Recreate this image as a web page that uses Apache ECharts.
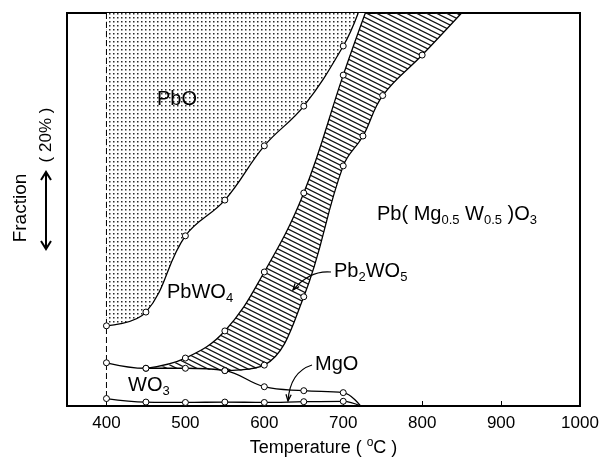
<!DOCTYPE html>
<html><head><meta charset="utf-8">
<script src="https://cdn.jsdelivr.net/npm/echarts@6/dist/echarts.min.js"></script>
<style>html,body{margin:0;padding:0;background:#fff}#c{width:603px;height:468px}</style>
</head><body><div id="c"></div>
<script>
// Temperatures (°C) and cumulative phase fractions (%) along each phase boundary.
// The *Edge pair is where a boundary runs into the frame (no measured point there).
const pboT = [400, 450, 500, 550, 600, 650, 700];
const pboY = [20.4, 23.9, 43.3, 52.4, 66.2, 76.3, 91.6];
const pboEdge = [719, 100];

const pbwo4T = [450, 500, 550, 600, 650, 700];
const pbwo4Y = [9.6, 12.2, 19.1, 34.1, 54.2, 84.2];
const pbwo4Edge = [728, 100];

const pb2wo5T = [450, 500, 550, 600, 650, 700, 725, 750, 800];
const pb2wo5Y = [9.6, 9.6, 9.0, 10.4, 27.8, 61.1, 68.7, 79.0, 89.3];
const pb2wo5Edge = [850, 100];

const wo3T = [400, 450, 500, 550, 600, 650, 700];
const wo3Y = [11.0, 9.6, 9.6, 9.0, 4.9, 3.9, 3.4];
const wo3Edge = [722, 0];

const mgoT = [400, 450, 500, 550, 600, 650, 700];
const mgoY = [1.9, 1.0, 0.9, 1.0, 0.9, 1.1, 1.2];
const mgoEdge = [722, 0];

const xTicks = [400, 500, 600, 700, 800, 900, 1000];
const xTickMarks = [400, 500, 600, 700, 800, 900];

const FONT = '"Liberation Sans", Arial, Helvetica, sans-serif';

function boundary(ts, ys, edge, from) {
  const out = [];
  for (let i = from || 0; i < ts.length; i++) out.push([ts[i], ys[i]]);
  if (edge) out.push({ value: edge, symbol: 'none' });
  return out;
}

// Fill patterns: stipple for PbO, oblique hatching for Pb2WO5.
function dotPattern() {
  const c = document.createElement('canvas');
  c.width = 4; c.height = 4;
  const g = c.getContext('2d');
  g.fillStyle = '#2a2a2a';
  g.fillRect(1, 1, 1.5, 1.5);
  return { image: c, repeat: 'repeat' };
}
function hatchPattern() {
  const c = document.createElement('canvas');
  c.width = 10; c.height = 5;
  const g = c.getContext('2d');
  g.strokeStyle = '#111';
  g.lineWidth = 1.2;
  [-5, 0, 5].forEach(function (d) {
    g.beginPath();
    g.moveTo(-2, -1 + d);
    g.lineTo(12, 6 + d);
    g.stroke();
  });
  return { image: c, repeat: 'repeat' };
}

const SMOOTH = 0.4;
function areaSeries(data, fill, z) {
  return {
    type: 'line', data: data, smooth: SMOOTH,
    symbol: 'none', silent: true, z: z,
    lineStyle: { width: 0, opacity: 0 },
    areaStyle: { origin: 'end', color: fill, opacity: 1 }
  };
}
function curveSeries(data) {
  return {
    type: 'line', data: data, smooth: SMOOTH, z: 10,
    symbol: 'circle', symbolSize: 6,
    itemStyle: { color: '#fff', borderColor: '#000', borderWidth: 1 },
    lineStyle: { color: '#000', width: 1.3 }
  };
}

// Everything above the PbWO4 band's lower edge (WO3 top up to 450 °C, then the
// PbWO4/Pb2WO5 boundary) is blanked before the PbO stipple goes on.
const coverData = [[wo3T[0], wo3Y[0]]].concat(boundary(pbwo4T, pbwo4Y, pbwo4Edge));

const rich = {
  m: { fontSize: 20, fontFamily: FONT, color: '#000' },
  s: { fontSize: 13, fontFamily: FONT, color: '#000', padding: [12, 0, 0, 0] }
};
function label(x, y, text, align) {
  return {
    type: 'text', x: x, y: y, z: 20,
    style: { text: text, rich: rich, align: align || 'left', verticalAlign: 'middle' }
  };
}
function arrowHead(tx, ty, fx, fy) {
  const a = Math.atan2(ty - fy, tx - fx), L = 7, w = 0.38;
  return {
    type: 'polyline', z: 20,
    shape: { points: [
      [tx - L * Math.cos(a - w), ty - L * Math.sin(a - w)], [tx, ty],
      [tx - L * Math.cos(a + w), ty - L * Math.sin(a + w)]] },
    style: { stroke: '#000', lineWidth: 1.3, fill: null }
  };
}

const chart = echarts.init(document.getElementById('c'), null, { renderer: 'canvas' });
chart.setOption({
  animation: false,
  backgroundColor: '#fff',
  grid: { left: 67, right: 23, top: 13, bottom: 62, show: true,
          borderColor: '#000', borderWidth: 2, backgroundColor: 'transparent' },
  xAxis: {
    type: 'value', min: 350, max: 1000, interval: 50,
    name: '{t|Temperature ( }{o|o}{t|C )}', nameLocation: 'middle', nameGap: 31,
    nameTextStyle: { rich: {
      t: { fontSize: 18, fontFamily: FONT, color: '#000' },
      o: { fontSize: 12, fontFamily: FONT, color: '#000', padding: [0, 0, 10, 0] } } },
    axisLine: { lineStyle: { color: '#000', width: 2 } },
    axisTick: { inside: true, length: 5, lineStyle: { color: '#000', width: 1 }, customValues: xTickMarks },
    axisLabel: { customValues: xTicks, fontSize: 17, fontFamily: FONT, color: '#000', margin: 9,
                 formatter: function (v) { return String(v); } },
    splitLine: { show: false }
  },
  yAxis: {
    type: 'value', min: 0, max: 100,
    axisLine: { show: true, lineStyle: { color: '#000', width: 2 } },
    axisTick: { show: false }, axisLabel: { show: false }, splitLine: { show: false }
  },
  series: [
    areaSeries(boundary(pb2wo5T, pb2wo5Y, pb2wo5Edge), hatchPattern(), 1),
    areaSeries(coverData, '#fff', 2),
    areaSeries(boundary(pboT, pboY, pboEdge), dotPattern(), 3),
    {
      type: 'line', z: 9, symbol: 'none', silent: true,
      data: [[pboT[0], 100], [mgoT[0], mgoY[0]]],
      lineStyle: { color: '#000', width: 1, type: [6, 3] }
    },
    curveSeries(boundary(pboT, pboY, pboEdge)),
    curveSeries(boundary(pbwo4T, pbwo4Y, pbwo4Edge)),
    curveSeries(boundary(pb2wo5T, pb2wo5Y, pb2wo5Edge, 2)),
    curveSeries(boundary(wo3T, wo3Y, wo3Edge)),
    curveSeries(boundary(mgoT, mgoY, mgoEdge))
  ],
  graphic: [
    label(177, 99, '{m|PbO}', 'center'),
    label(167, 292, '{m|PbWO}{s|4}'),
    label(334, 271, '{m|Pb}{s|2}{m|WO}{s|5}'),
    label(377, 214, '{m|Pb( Mg}{s|0.5}{m| W}{s|0.5}{m| )O}{s|3}'),
    label(315, 364, '{m|MgO}'),
    label(128, 385, '{m|WO}{s|3}'),
    { type: 'bezierCurve', z: 20,
      shape: { x1: 331, y1: 272, cpx1: 310, cpy1: 270, x2: 293, y2: 290 },
      style: { stroke: '#000', lineWidth: 1.2, fill: null } },
    arrowHead(293, 290, 302, 279),
    { type: 'bezierCurve', z: 20,
      shape: { x1: 312, y1: 365, cpx1: 290, cpy1: 372, x2: 288, y2: 401 },
      style: { stroke: '#000', lineWidth: 1.2, fill: null } },
    arrowHead(288, 401, 289, 390),
    { type: 'text', x: 21, y: 208, rotation: Math.PI / 2, z: 20,
      style: { text: 'Fraction', font: '19px ' + FONT, fill: '#000', align: 'center', verticalAlign: 'middle' } },
    { type: 'text', x: 46, y: 135, rotation: Math.PI / 2, z: 20,
      style: { text: '( 20% )', font: '17px ' + FONT, fill: '#000', align: 'center', verticalAlign: 'middle' } },
    { type: 'line', z: 20, shape: { x1: 46, y1: 172, x2: 46, y2: 249 },
      style: { stroke: '#000', lineWidth: 2 } },
    { type: 'polyline', z: 20, shape: { points: [[41, 180], [46, 172], [51, 180]] },
      style: { stroke: '#000', lineWidth: 2, fill: null } },
    { type: 'polyline', z: 20, shape: { points: [[41, 241], [46, 249], [51, 241]] },
      style: { stroke: '#000', lineWidth: 2, fill: null } }
  ]
});
</script>
</body></html>
